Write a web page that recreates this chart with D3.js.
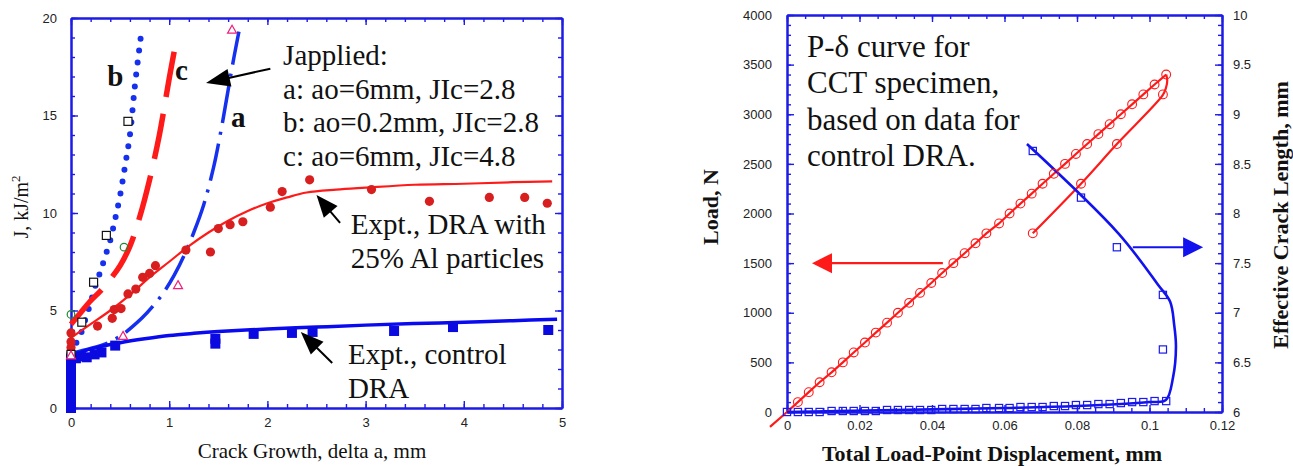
<!DOCTYPE html>
<html>
<head>
<meta charset="utf-8">
<script src="https://cdn.jsdelivr.net/npm/d3@7"></script>
<style>
  body { margin: 0; background: #fff; }
  svg { display: block; }
  .serif { font-family: "Liberation Serif", "Times New Roman", Times, serif; fill: #111; }
  .axis text { font-family: "Liberation Sans", Arial, Helvetica, sans-serif; font-size: 13px; fill: #222; }
  .axis path.domain { stroke: #1c1ce6; stroke-width: 2; }
  .axis line { stroke: #1c1ce6; stroke-width: 1.4; }
</style>
</head>
<body>
<svg id="chart" width="1293" height="466"></svg>
<script>
// ---------- left panel: J-R curves (delta a in mm, J in kJ/m2) ----------
const daTicks = [0, 1, 2, 3, 4, 5];
const jTicks = [0, 5, 10, 15, 20];

const draExpt = [[0,2.85],[0,3.1],[0,3.4],[0,3.85],[0.27,4.2],[0.42,4.6],[0.44,5.05],[0.51,5.1],
  [0.58,5.85],[0.66,6.1],[0.73,6.7],[0.8,6.9],[0.86,7.3],[1.17,8.1],[1.42,8.0],[1.5,9.2],[1.62,9.4],
  [1.75,9.55],[2.03,10.3],[2.15,11.1],[2.43,11.7],[3.06,11.2],[3.65,10.6],[4.26,10.8],[4.62,10.8],[4.85,10.5]];
const draFit = [[0,3.6],[0.2,4.3],[0.4,5.0],[0.6,5.8],[0.8,6.7],[1.0,7.5],[1.2,8.3],[1.4,9.0],[1.6,9.6],
  [1.8,10.1],[2.0,10.5],[2.2,10.8],[2.4,11.05],[2.7,11.2],[3.0,11.3],[3.5,11.45],[4.0,11.5],[4.5,11.58],[4.9,11.62]];

const ctrlExpt = [[0,0],[0,0.2],[0,0.4],[0,0.6],[0,0.8],[0,1.0],[0,1.2],[0,1.4],[0,1.6],[0,1.8],[0,2.0],
  [0,2.2],[0,2.4],[0,2.55],[0.05,2.55],[0.1,2.65],[0.16,2.6],[0.24,2.75],[0.31,2.85],[0.45,3.2],
  [1.47,3.3],[1.47,3.55],[1.86,3.8],[2.25,3.85],[2.46,3.9],[3.29,3.95],[3.89,4.15],[4.86,4.0]];
const ctrlFit = [[0,2.4],[0.05,2.7],[0.15,2.95],[0.3,3.15],[0.5,3.35],[0.75,3.55],[1.0,3.72],[1.25,3.83],
  [1.5,3.92],[2.0,4.05],[2.5,4.15],[3.0,4.25],[3.5,4.33],[4.0,4.4],[4.5,4.48],[4.95,4.55]];

// applied J curves a, b, c
const curveA = [[0,2.8],[0.2,3.05],[0.38,3.35],[0.52,3.75],[0.62,4.15],[0.72,4.6],[0.83,5.2],[0.94,5.9],
  [1.05,6.8],[1.15,7.8],[1.25,9.0],[1.35,10.4],[1.45,12.3],[1.53,14.3],[1.6,16.3],[1.66,18.0],[1.71,19.3]];
const curveB = [[0,2.8],[0.05,3.3],[0.1,3.8],[0.15,4.6],[0.2,5.4],[0.25,6.3],[0.3,7.0],[0.35,7.8],[0.4,8.6],
  [0.45,9.7],[0.5,10.9],[0.55,12.4],[0.6,14.0],[0.65,16.5],[0.7,18.6],[0.71,19.0]];
const curveC = [[0,4.3],[0.1,4.9],[0.2,5.5],[0.3,6.0],[0.4,6.6],[0.5,7.3],[0.6,8.3],[0.7,9.8],[0.8,11.7],
  [0.9,14.0],[1.0,16.9],[1.07,18.8]];

const openSquares = [[0,2.75],[0.11,4.4],[0.23,6.45],[0.36,8.85],[0.58,14.7]];
const openCircles = [[0,4.8],[0.54,8.25]];
const openTriangles = [[0,2.7],[0.53,3.7],[1.09,6.3],[1.64,19.4]];

const legendLines = ["Japplied:", "a: ao=6mm, JIc=2.8", "b: ao=0.2mm, JIc=2.8", "c: ao=6mm, JIc=4.8"];

// ---------- right panel: P-delta for CCT specimen ----------
const dispTicks = [0, 0.02, 0.04, 0.06, 0.08, 0.1, 0.12];
const loadTicks = [0, 500, 1000, 1500, 2000, 2500, 3000, 3500, 4000];
const crackTicks = [6, 6.5, 7, 7.5, 8, 8.5, 9, 9.5, 10];

const loadSteps = [0,100,200,300,400,500,600,700,800,900,1000,1100,1200,1300,1400,1500,1600,1700,
  1800,1900,2000,2100,2200,2300,2400,2500,2600,2700,2800,2900,3000,3100,3200,3300,3400];
const loadDisp = [0,0.003,0.006,0.009,0.0123,0.0154,0.0184,0.0215,0.0245,0.0276,0.0306,0.0337,0.0367,
  0.0398,0.0428,0.0459,0.049,0.052,0.055,0.0585,0.0614,0.0644,0.0675,0.0705,0.0736,0.0767,0.0797,
  0.0828,0.0859,0.089,0.0921,0.0952,0.0983,0.1014,0.1046];
const crackLow = [6.0,6.0,6.0,6.0,6.01,6.01,6.01,6.01,6.01,6.02,6.02,6.02,6.02,6.02,6.03,6.03,6.03,6.03,
  6.04,6.04,6.04,6.05,6.05,6.05,6.06,6.06,6.07,6.07,6.08,6.08,6.09,6.1,6.1,6.11,6.11];

const loadLineStart = [-0.0047, -150];
const unloadLine = [[0.1046,3400],[0.1049,3340],[0.1045,3260],[0.1036,3190],[0.091,2700],[0.0811,2300],[0.0678,1800]];
const unloadPts = [[0.1037,3200],[0.091,2700],[0.0811,2300],[0.0678,1800]];
const crackPts = [[0.1037,6.63],[0.1037,7.18],[0.091,7.66],[0.0811,8.16],[0.0678,8.63]];
const crackLine = [[0,6.0],[0.03,6.02],[0.06,6.04],[0.08,6.06],[0.1,6.1],[0.1045,6.12],[0.1065,6.35],
  [0.1073,6.66],[0.1068,6.88],[0.1057,7.11],[0.1024,7.28],[0.0914,7.8],[0.0662,8.7]];

const noteLines = ["P-\u03b4 curve for", "CCT specimen,", "based on data for", "control DRA."];

// ---------- drawing ----------
const svg = d3.select("#chart");
const BLUE = "#1c1ce6", RED = "#ff1a1a";

const xL = d3.scaleLinear().domain([0, 5]).range([71, 562]);
const yL = d3.scaleLinear().domain([0, 20]).range([408, 18]);
const xR = d3.scaleLinear().domain([0, 0.12]).range([787, 1222]);
const yP = d3.scaleLinear().domain([0, 4000]).range([412, 15]);
const yA = d3.scaleLinear().domain([6, 10]).range([412, 15]);

function drawFrame(x, y, xMaj, xMinStep, yMaj, yMinStep, xFmt, yFmt, pads) {
  const [xa, xb] = x.domain(), [ya, yb] = y.domain();
  const xMin = d3.range(xa, xb + 1e-9, xMinStep), yMin = d3.range(ya, yb + 1e-9, yMinStep);
  const [left, right] = x.range(), [bottom, top] = y.range();
  const g = svg.append("g").attr("class", "axis");
  const add = (axis, tr) => g.append("g").attr("transform", tr).call(axis);
  // minor ticks on all sides
  add(d3.axisBottom(x).tickValues(xMin).tickSize(-4).tickSizeOuter(0).tickFormat(""), `translate(0,${bottom})`);
  add(d3.axisTop(x).tickValues(xMin).tickSize(-4).tickSizeOuter(0).tickFormat(""), `translate(0,${top})`);
  add(d3.axisLeft(y).tickValues(yMin).tickSize(-4).tickSizeOuter(0).tickFormat(""), `translate(${left},0)`);
  // majors
  add(d3.axisBottom(x).tickValues(xMaj).tickSize(-7).tickSizeOuter(0).tickPadding(pads.b).tickFormat(xFmt), `translate(0,${bottom})`);
  add(d3.axisTop(x).tickValues(xMaj).tickSize(-7).tickSizeOuter(0).tickFormat(""), `translate(0,${top})`);
  add(d3.axisLeft(y).tickValues(yMaj).tickSize(-7).tickSizeOuter(0).tickPadding(pads.l).tickFormat(yFmt), `translate(${left},0)`);
  return g;
}

function arrow(tail, tip, color, len, half, width) {
  const dx = tip[0] - tail[0], dy = tip[1] - tail[1];
  const d = Math.hypot(dx, dy), ux = dx / d, uy = dy / d;
  const bx = tip[0] - ux * len, by = tip[1] - uy * len;
  svg.append("line").attr("x1", tail[0]).attr("y1", tail[1]).attr("x2", bx + ux * 2).attr("y2", by + uy * 2)
    .attr("stroke", color).attr("stroke-width", width);
  svg.append("path")
    .attr("d", `M${tip[0]},${tip[1]}L${bx - uy * half},${by + ux * half}L${bx + uy * half},${by - ux * half}Z`)
    .attr("fill", color);
}

function textBlock(lines, x, y0, step, size, weight) {
  svg.append("g").selectAll("text").data(lines).join("text")
    .attr("class", "serif").attr("x", x).attr("y", (d, i) => y0 + i * step)
    .attr("font-size", size).attr("font-weight", weight || "normal").text(d => d);
}

// ----- left panel -----
const fmtInt = d3.format("d");
const gl = drawFrame(xL, yL, daTicks, 0.2, jTicks, 1, fmtInt, fmtInt, { b: 10, l: 14 });
// right side ticks of left panel
gl.append("g").attr("transform", `translate(${xL.range()[1]},0)`)
  .call(d3.axisRight(yL).tickValues(d3.range(0, 20.001, 1)).tickSize(-4).tickSizeOuter(0).tickFormat(""));
gl.append("g").attr("transform", `translate(${xL.range()[1]},0)`)
  .call(d3.axisRight(yL).tickValues(jTicks).tickSize(-7).tickSizeOuter(0).tickFormat(""));

const lineL = d3.line().x(d => xL(d[0])).y(d => yL(d[1])).curve(d3.curveCatmullRom.alpha(0.5));

svg.append("path").attr("d", lineL(curveA)).attr("fill", "none").attr("stroke", "#1530ee")
  .attr("stroke-width", 3.5).attr("stroke-dasharray", "38,9,3,9");
svg.append("path").attr("d", lineL(curveB)).attr("fill", "none").attr("stroke", "#1530ee")
  .attr("stroke-width", 6).attr("stroke-linecap", "round").attr("stroke-dasharray", "0,12");
svg.append("path").attr("d", lineL(curveC)).attr("fill", "none").attr("stroke", RED)
  .attr("stroke-width", 5.5).attr("stroke-dasharray", "46,17");
svg.append("path").attr("d", lineL(draFit)).attr("fill", "none").attr("stroke", RED).attr("stroke-width", 2.2);
svg.append("path").attr("d", lineL(ctrlFit)).attr("fill", "none").attr("stroke", "#0a0af0").attr("stroke-width", 3.5);

svg.append("g").selectAll("rect").data(ctrlExpt).join("rect")
  .attr("x", d => xL(d[0]) - 5).attr("y", d => yL(d[1]) - 5).attr("width", 10).attr("height", 10)
  .attr("fill", "#0a0ae0");
svg.append("g").selectAll("circle").data(draExpt).join("circle")
  .attr("cx", d => xL(d[0])).attr("cy", d => yL(d[1])).attr("r", 4.6).attr("fill", "#d81e1e");
svg.append("g").selectAll("rect").data(openSquares).join("rect")
  .attr("x", d => xL(d[0]) - 4).attr("y", d => yL(d[1]) - 4).attr("width", 8).attr("height", 8)
  .attr("fill", "#fff").attr("stroke", "#111").attr("stroke-width", 1.2);
svg.append("g").selectAll("circle").data(openCircles).join("circle")
  .attr("cx", d => xL(d[0])).attr("cy", d => yL(d[1])).attr("r", 3.8)
  .attr("fill", "none").attr("stroke", "#1e8a2a").attr("stroke-width", 1.2);
svg.append("g").selectAll("path").data(openTriangles).join("path")
  .attr("d", d => `M${xL(d[0])},${yL(d[1]) - 4.5}l4.5,8h-9z`)
  .attr("fill", "#fff").attr("stroke", "#f0207a").attr("stroke-width", 1.2);

// left panel labels
textBlock(legendLines, xL(2.16), 65, 33.7, 29);
textBlock(["Expt., DRA with", "25% Al particles"], xL(2.85), 234, 34, 29);
textBlock(["Expt., control", "DRA"], xL(2.82), 364, 34, 29);
svg.append("text").attr("class", "serif").attr("x", xL(0.37)).attr("y", yL(16.5))
  .attr("font-size", 29).attr("font-weight", "bold").text("b");
svg.append("text").attr("class", "serif").attr("x", xL(1.06)).attr("y", yL(16.8))
  .attr("font-size", 29).attr("font-weight", "bold").text("c");
svg.append("text").attr("class", "serif").attr("x", xL(1.63)).attr("y", yL(14.4))
  .attr("font-size", 29).attr("font-weight", "bold").text("a");

arrow([xL(2.03), yL(17.4)], [xL(1.375), yL(16.67)], "#000", 24, 9, 2);
arrow([xL(2.74), yL(9.49)], [xL(2.5), yL(10.92)], "#000", 22, 9, 2);
arrow([xL(2.66), yL(2.31)], [xL(2.34), yL(3.9)], "#000", 23, 9, 2);

svg.append("text").attr("class", "serif").attr("x", 312).attr("y", 458)
  .attr("text-anchor", "middle").attr("font-size", 21).text("Crack Growth, delta a, mm");
const jLab = svg.append("text").attr("class", "serif").attr("transform", "translate(28,207) rotate(-90)")
  .attr("text-anchor", "middle").attr("font-size", 20);
jLab.append("tspan").text("J, kJ/m");
jLab.append("tspan").attr("dy", -8).attr("font-size", 13).text("2");

// ----- right panel -----
const fmtG = d3.format("~g");
drawFrame(xR, yP, dispTicks, 0.005, loadTicks, 100, fmtG, fmtInt, { b: 9, l: 15 });
const gr = svg.append("g").attr("class", "axis");
gr.append("g").attr("transform", `translate(${xR.range()[1]},0)`)
  .call(d3.axisRight(yA).tickValues(d3.range(6, 10.001, 0.1)).tickSize(-4).tickSizeOuter(0).tickFormat(""));
gr.append("g").attr("transform", `translate(${xR.range()[1]},0)`)
  .call(d3.axisRight(yA).tickValues(crackTicks).tickSize(-7).tickSizeOuter(0).tickPadding(11).tickFormat(fmtG));

const loadPts = loadSteps.map((p, i) => [loadDisp[i], p]);
const lineP = d3.line().x(d => xR(d[0])).y(d => yP(d[1]));
const lineA = d3.line().x(d => xR(d[0])).y(d => yA(d[1])).curve(d3.curveCatmullRom.alpha(0.5));

svg.append("path").attr("d", lineP([loadLineStart, ...loadPts])).attr("fill", "none")
  .attr("stroke", RED).attr("stroke-width", 2.2);
svg.append("path").attr("d", lineP.curve(d3.curveCatmullRom.alpha(0.5))(unloadLine)).attr("fill", "none")
  .attr("stroke", RED).attr("stroke-width", 2.2);
svg.append("path").attr("d", lineA(crackLine)).attr("fill", "none")
  .attr("stroke", "#1212ee").attr("stroke-width", 2.6);

svg.append("g").selectAll("circle").data(loadPts.slice(1).concat(unloadPts)).join("circle")
  .attr("cx", d => xR(d[0])).attr("cy", d => yP(d[1])).attr("r", 4.4)
  .attr("fill", "none").attr("stroke", RED).attr("stroke-width", 1.1);
const sqPts = loadDisp.map((d, i) => [d, crackLow[i]]).concat(crackPts);
svg.append("g").selectAll("rect").data(sqPts).join("rect")
  .attr("x", d => xR(d[0]) - 3.6).attr("y", d => yA(d[1]) - 3.6).attr("width", 7.2).attr("height", 7.2)
  .attr("fill", "none").attr("stroke", "#1a1aee").attr("stroke-width", 1.2);

arrow([xR(0.043), yP(1500)], [xR(0.0069), yP(1500)], RED, 20, 10, 2.2);
arrow([xR(0.0954), yA(7.66)], [xR(0.1148), yA(7.66)], "#1212ee", 20, 10, 2.2);

textBlock(noteLines, 807, 57, 36.3, 31);

svg.append("text").attr("class", "serif").attr("x", 992).attr("y", 461)
  .attr("text-anchor", "middle").attr("font-size", 22).attr("font-weight", "bold")
  .text("Total Load-Point Displacement, mm");
svg.append("text").attr("class", "serif").attr("transform", "translate(718,207) rotate(-90)")
  .attr("text-anchor", "middle").attr("font-size", 22).attr("font-weight", "bold").text("Load, N");
svg.append("text").attr("class", "serif").attr("transform", "translate(1288,215) rotate(-90)")
  .attr("text-anchor", "middle").attr("font-size", 22).attr("font-weight", "bold")
  .text("Effective Crack Length, mm");
</script>
</body>
</html>
